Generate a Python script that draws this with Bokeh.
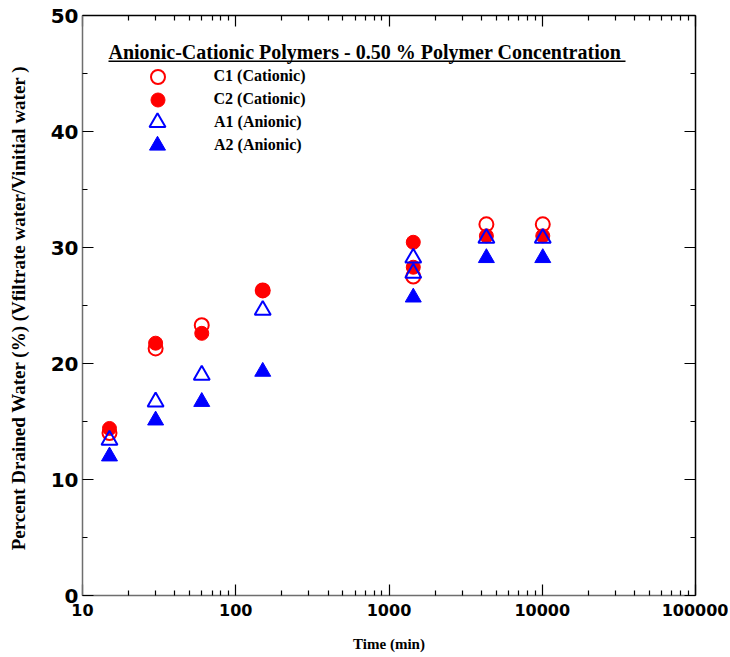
from bokeh.plotting import figure
from bokeh.models import (LogAxis, LinearAxis, FixedTicker, NumeralTickFormatter,
                          Label, BoxAnnotation, Legend, LegendItem, Range1d, LogScale,
                          CustomLabelingPolicy)
from bokeh.embed import file_html
from bokeh.resources import INLINE

# ---- data ----
c1_time = [15, 30, 60, 150, 1440, 4320, 10080]
c1_vals = [14.0, 21.3, 23.3, 26.3, 27.5, 32.0, 32.0]

c2_time = [15, 30, 60, 150, 1440, 1440, 4320, 10080]
c2_vals = [14.4, 21.75, 22.6, 26.3, 30.45, 28.3, 31.0, 31.0]

a1_time = [15, 30, 60, 150, 1440, 1440, 4320, 10080]
a1_vals = [13.4, 16.7, 19.0, 24.6, 29.1, 27.8, 30.8, 30.8]

a2_time = [15, 30, 60, 150, 1440, 4320, 10080]
a2_vals = [12.0, 15.1, 16.7, 19.3, 25.7, 29.1, 29.1]

x_major = [10, 100, 1000, 10000, 100000]
x_minor = [m * d for d in [10, 100, 1000, 10000] for m in range(2, 10)]
y_major = [0, 10, 20, 30, 40, 50]
y_minor = [5, 15, 25, 35, 45]

legend_labels = ["C1 (Cationic)", "C2 (Cationic)", "A1 (Anionic)", "A2 (Anionic)"]
title_text = "Anionic-Cationic Polymers -  0.50 % Polymer Concentration"
y_label = "Percent Drained Water (%)  (Vfiltrate water/Vinitial water )"
x_label = "Time (min)"

RED = "#FF0000"
BLUE = "#0000FF"
SERIF = "Liberation Serif"
SANS = "DejaVu Sans"

p = figure(x_axis_type=None, y_axis_type=None,
           x_range=Range1d(10, 100000), y_range=Range1d(0, 50),
           frame_width=613, frame_height=580,
           min_border_left=82, min_border_right=33, min_border_top=15, min_border_bottom=58,
           output_backend="svg", toolbar_location=None)
p.x_scale = LogScale()
p.outline_line_color = None
p.background_fill_color = "white"
p.border_fill_color = "white"

xt = FixedTicker(ticks=x_major, minor_ticks=x_minor)
yt = FixedTicker(ticks=y_major, minor_ticks=y_minor)

no_labels = "for (const i of Array.from(indices)) { indices.unset(i) }\nreturn indices"


def style(ax, line_color, labels=True, fs="16px"):
    ax.axis_line_color = line_color
    ax.axis_line_width = 1.5
    ax.major_tick_in = 11
    ax.major_tick_out = 0
    ax.minor_tick_in = 5
    ax.minor_tick_out = 0
    ax.major_tick_line_color = "black"
    ax.minor_tick_line_color = "black"
    ax.major_tick_line_width = 1.2
    ax.minor_tick_line_width = 1.2
    if labels:
        ax.major_label_text_font = SANS
        ax.major_label_text_font_style = "bold"
        ax.major_label_text_font_size = fs
        ax.major_label_text_color = "black"
    else:
        ax.major_label_text_font_size = "1px"
        ax.major_label_standoff = 0
        ax.major_label_policy = CustomLabelingPolicy(code=no_labels)


xb = LogAxis(ticker=xt, formatter=NumeralTickFormatter(format="0"))
style(xb, "#6e6e6e", True, "16px")
xb.major_label_standoff = 8
xb.axis_label = x_label
xb.axis_label_text_font = SERIF
xb.axis_label_text_font_style = "bold"
xb.axis_label_text_font_size = "15px"
xb.axis_label_text_color = "black"
xb.axis_label_standoff = 17
p.add_layout(xb, "below")

yl = LinearAxis(ticker=yt)
style(yl, "#6e6e6e", True, "20px")
yl.major_label_standoff = 4
yl.axis_label = y_label
yl.axis_label_text_font = SERIF
yl.axis_label_text_font_style = "bold"
yl.axis_label_text_font_size = "19px"
yl.axis_label_text_color = "black"
yl.axis_label_standoff = 19
p.add_layout(yl, "left")

xtop = LogAxis(ticker=xt, formatter=NumeralTickFormatter(format="0"))
style(xtop, "black", False)
p.add_layout(xtop, "above")

yr = LinearAxis(ticker=yt)
style(yr, "black", False)
p.add_layout(yr, "right")

r1 = p.scatter(c1_time, c1_vals, marker="circle", size=14, fill_color=None,
               line_color=RED, line_width=2)
r2 = p.scatter(c2_time, c2_vals, marker="circle", size=14, fill_color=RED,
               line_color=RED, line_width=1)
r3 = p.scatter(a1_time, a1_vals, marker="triangle", size=16, fill_color=None,
               line_color=BLUE, line_width=2)
r4 = p.scatter(a2_time, a2_vals, marker="triangle", size=16, fill_color=BLUE,
               line_color=BLUE, line_width=1)

# one small legend per entry so that rows can be packed as tightly as in the reference
row_centres = [76, 99, 122, 145]      # page y of each legend row
glyph_sizes = [35, 35, 40, 40]        # legend glyph box (marker size = 0.4 * box)
FRAME_LEFT, FRAME_BOTTOM = 82, 595
for lab, r, yc, g in zip(legend_labels, [r1, r2, r3, r4], row_centres, glyph_sizes):
    lg = Legend(items=[LegendItem(label=lab, renderers=[r])],
                location=(157 - g / 2 - FRAME_LEFT, FRAME_BOTTOM - yc - g / 2),
                padding=0, margin=0, spacing=0,
                glyph_width=g, glyph_height=g, label_height=20,
                label_standoff=int(57 - g / 2),
                label_text_font=SERIF, label_text_font_style="bold",
                label_text_font_size="16px", label_text_color="black",
                border_line_color=None, background_fill_alpha=0)
    p.add_layout(lg)

p.add_layout(Label(x=26, y=544, x_units="screen", y_units="screen", text=title_text,
                   text_font=SERIF, text_font_style="bold", text_font_size="20px",
                   text_color="black", text_align="left", text_baseline="middle"))
p.add_layout(BoxAnnotation(left=26, right=543, bottom=533.5, top=535,
                           left_units="screen", right_units="screen",
                           bottom_units="screen", top_units="screen",
                           fill_color="black", fill_alpha=1, line_color=None))

open("out.html", "w").write(file_html(p, INLINE))
